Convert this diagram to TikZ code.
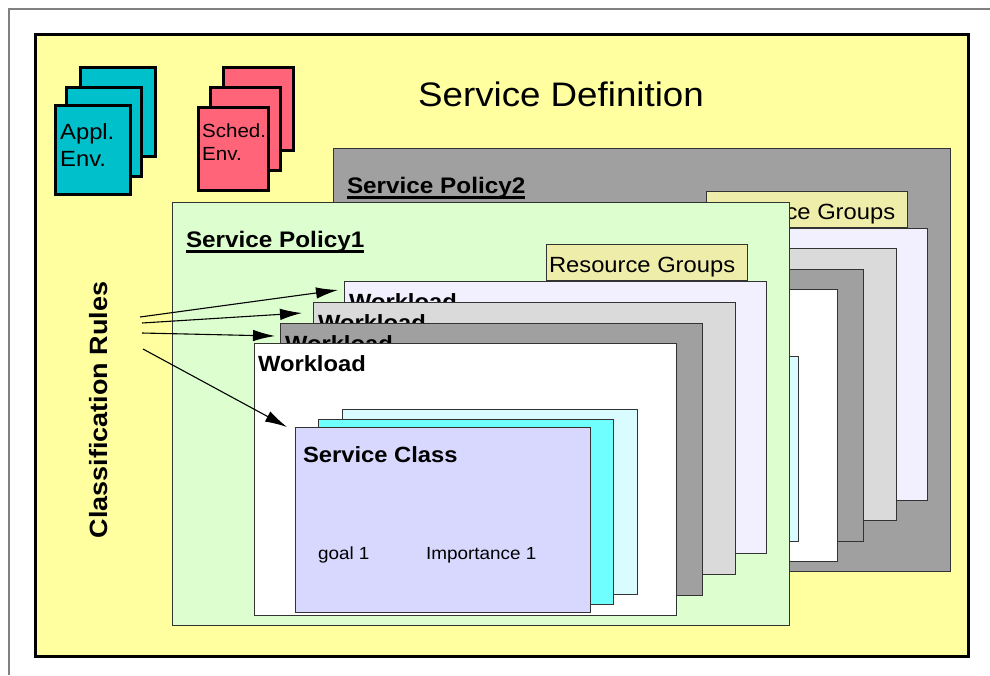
\documentclass[tikz,border=0pt]{standalone}
\usepackage{fontspec}
\setmainfont{Liberation Sans}[FakeStretch=1.08]
\usepackage{xcolor}
\usepackage{tikz}
\usetikzlibrary{arrows.meta}

\definecolor{defyellow}{HTML}{FFFFA0}
\definecolor{applcyan}{HTML}{00C0CC}
\definecolor{schedred}{HTML}{FF6478}
\definecolor{polgreen}{HTML}{DDFFD0}
\definecolor{polgray}{HTML}{A0A0A0}
\definecolor{rgkhaki}{HTML}{EEEEAA}
\definecolor{wllav}{HTML}{F2F0FF}
\definecolor{wlgray}{HTML}{DADADA}
\definecolor{wldark}{HTML}{A0A0A0}
\definecolor{scback}{HTML}{D8FCFF}
\definecolor{sccyan}{HTML}{70FFFF}
\definecolor{scfront}{HTML}{D8D8FF}

\tikzset{
  panel/.style={draw=black!80, line width=0.9pt, inner sep=0pt, outer sep=0pt, anchor=north west},
  envcard/.style={draw=black, line width=3pt, inner sep=0pt, outer sep=0pt, anchor=north west},
  applcard/.style={envcard, fill=applcyan, minimum width=75pt, minimum height=89pt},
  schedcard/.style={envcard, fill=schedred, minimum width=70pt, minimum height=83pt},
  policy/.style={panel, minimum width=617pt, minimum height=423pt},
  rgbox/.style={panel, fill=rgkhaki, minimum width=201pt, minimum height=36pt},
  wlbox/.style={panel, minimum width=422pt, minimum height=272pt},
  scbox/.style={panel, minimum width=295pt, minimum height=185pt},
  label/.style={anchor=base west, inner sep=0pt, outer sep=0pt},
  title/.style={label, font=\fontsize{22.5}{27}\selectfont\bfseries},
  wltext/.style={label, font=\fontsize{22}{26}\selectfont\bfseries},
  rgtext/.style={label, font=\fontsize{22}{26}\selectfont},
  smalltext/.style={label, font=\fontsize{17.5}{21}\selectfont},
  rule/.style={line width=1.1pt, -{Latex[length=22pt,width=11.5pt]}},
  uline/.style={line width=2.5pt}
}

\begin{document}
\begin{tikzpicture}[x=1pt, y=-1pt]
  \useasboundingbox (0,0) rectangle (990,675);
  % page frame
  \draw[black!50, line width=1.2pt] (9,675) -- (9,9) -- (990,9);

  % service definition
  \node[panel, draw=black, line width=3pt, fill=defyellow,
        minimum width=933pt, minimum height=622pt] (sd) at (35,34) {};
  \node[anchor=base, inner sep=0pt, font=\fontsize{34}{40}\selectfont] (sdtitle) at (561,106) {Service Definition};

  % application environments
  \node[applcard] (appl3) at (80,67) {};
  \node[applcard] (appl2) at (66,87) {};
  \node[applcard] (appl1) at (55,105) {};
  \node[anchor=north west, inner sep=0pt, align=left, font=\fontsize{22}{27}\selectfont]
    (appltext) at ([xshift=5pt,yshift=-18pt]appl1.north west) {Appl.\\Env.};

  % scheduling environments
  \node[schedcard] (sched3) at (223,67) {};
  \node[schedcard] (sched2) at (210,87) {};
  \node[schedcard] (sched1) at (198,107) {};
  \node[anchor=north west, inner sep=0pt, align=left, font=\fontsize{19}{23}\selectfont]
    (schedtext) at ([xshift=4pt,yshift=-17pt]sched1.north west) {Sched.\\Env.};

  % classification rules
  \node[rotate=90, anchor=base, inner sep=0pt, font=\fontsize{25}{30}\selectfont\bfseries]
    (rules) at (107,410) {Classification Rules};
  \coordinate (r1) at (140,317);
  \coordinate (r2) at (142,323);
  \coordinate (r3) at (142,333);
  \coordinate (r4) at (143,349);

  % service policy 2 (behind)
  \node[policy, fill=polgray] (sp2) at (333,148) {};
  \node[title] (sp2title) at ([xshift=14pt,yshift=-45pt]sp2.north west) {Service Policy2};
  \draw[uline] ([yshift=-4.5pt]sp2title.base west) -- ([yshift=-4.5pt]sp2title.base east);
  \node[rgbox] (rg2) at (706,191) {};
  \node[rgtext] (rg2text) at ([xshift=3pt,yshift=-28pt]rg2.north west) {Resource Groups};
  \node[wlbox, fill=wllav] (wl2a) at (505,228) {};
  \node[wlbox, fill=wlgray] (wl2b) at (474,248) {};
  \node[wlbox, fill=wldark] (wl2c) at (441,269) {};
  \node[wlbox, fill=white] (wl2d) at (415,289) {};
  \node[scbox, fill=scback] (sc2a) at (503,356) {};

  % service policy 1
  \node[policy, fill=polgreen] (sp1) at (172,202) {};
  \node[title] (sp1title) at ([xshift=14pt,yshift=-45pt]sp1.north west) {Service Policy1};
  \draw[uline] ([yshift=-4.5pt]sp1title.base west) -- ([yshift=-4.5pt]sp1title.base east);
  \node[rgbox] (rg1) at (546,244) {};
  \node[rgtext] (rg1text) at ([xshift=3pt,yshift=-28pt]rg1.north west) {Resource Groups};

  % workloads
  \node[wlbox, fill=wllav] (wl1a) at (344,281) {};
  \node[wltext] at ([xshift=5pt,yshift=-28pt]wl1a.north west) {Workload};
  \node[wlbox, fill=wlgray] (wl1b) at (313,302) {};
  \node[wltext] at ([xshift=5pt,yshift=-28pt]wl1b.north west) {Workload};
  \node[wlbox, fill=wldark] (wl1c) at (280,323) {};
  \node[wltext] at ([xshift=5pt,yshift=-28pt]wl1c.north west) {Workload};
  \node[wlbox, fill=white] (wl1d) at (254,343) {};
  \node[wltext] at ([xshift=4pt,yshift=-28pt]wl1d.north west) {Workload};

  % service classes
  \node[scbox, fill=scback] (sc1a) at (342,409) {};
  \node[scbox, fill=sccyan] (sc1b) at (318,419) {};
  \node[scbox, fill=scfront] (sc1c) at (295,427) {};
  \node[wltext] (sctitle) at ([xshift=8pt,yshift=-35pt]sc1c.north west) {Service Class};
  \node[smalltext] (goal) at ([xshift=23pt,yshift=-132pt]sc1c.north west) {goal 1};
  \node[smalltext] (imp) at ([xshift=131pt,yshift=-132pt]sc1c.north west) {Importance 1};

  % rule arrows
  \draw[rule] (r1) -- ([xshift=-6pt,yshift=-9pt]wl1a.north west);
  \draw[rule] (r2) -- ([xshift=-11pt,yshift=-11pt]wl1b.north west);
  \draw[rule] (r3) -- ([xshift=-5pt,yshift=-13pt]wl1c.north west);
  \draw[rule] (r4) -- ([xshift=-8pt]sc1c.north west);
\end{tikzpicture}
\end{document}
